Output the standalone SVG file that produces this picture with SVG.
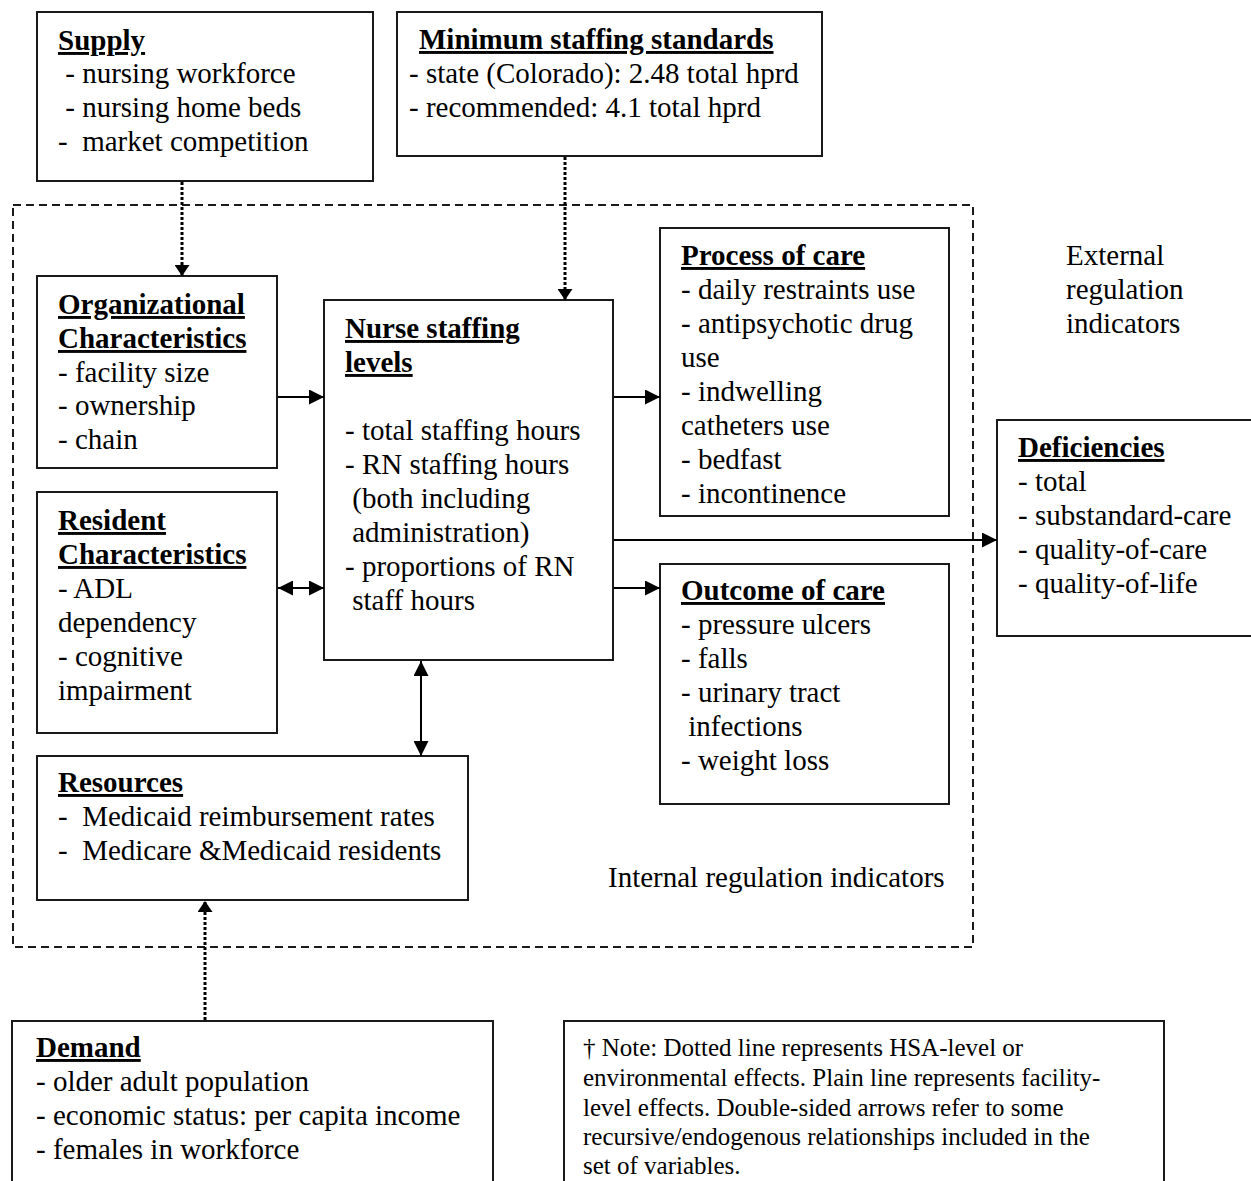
<svg xmlns="http://www.w3.org/2000/svg" width="1251" height="1181" viewBox="0 0 1251 1181">
  <style>
    text { font-family: "Liberation Serif", "Times New Roman", serif; font-size: 29px; fill: #000; }
    .t { font-weight: bold; text-decoration: underline; text-decoration-thickness: 2.5px; }
    .note { font-size: 25px; }
    .box { fill: #fff; stroke: #1a1a1a; stroke-width: 2; }
    .frame { fill: none; stroke: #1a1a1a; stroke-width: 2; stroke-dasharray: 8 5; }
    .solid { stroke: #000; stroke-width: 2; fill: none; }
    .dotted { stroke: #000; stroke-width: 3; stroke-dasharray: 3 2; fill: none; }
  </style>
  <defs>
    <marker id="head" markerUnits="userSpaceOnUse" markerWidth="15" markerHeight="15" refX="15" refY="7.5" orient="auto-start-reverse">
      <path d="M0,0 L15,7.5 L0,15 z" fill="#000"/>
    </marker>
    <marker id="dothead" markerUnits="userSpaceOnUse" markerWidth="11" markerHeight="15" refX="11" refY="7.5" orient="auto-start-reverse">
      <path d="M0,0 L11,7.5 L0,15 z" fill="#000"/>
    </marker>
  </defs>
  <rect width="1251" height="1181" fill="#fff"/>

  <!-- facility-level boundary -->
  <rect class="frame" x="13" y="205" width="960" height="742"/>
  <text x="1066" y="265">External</text>
  <text x="1066" y="299">regulation</text>
  <text x="1066" y="333">indicators</text>
  <text x="608" y="887">Internal regulation indicators</text>

  <g id="supply">
    <rect class="box" x="37" y="12" width="336" height="169"/>
    <text class="t" x="58" y="50">Supply</text>
    <text x="58" y="83" xml:space="preserve"> - nursing workforce</text>
    <text x="58" y="117" xml:space="preserve"> - nursing home beds</text>
    <text x="58" y="151" xml:space="preserve">-  market competition</text>
  </g>

  <g id="minimum-staffing">
    <rect class="box" x="397" y="12" width="425" height="144"/>
    <text class="t" x="419" y="49">Minimum staffing standards</text>
    <text x="409" y="83">- state (Colorado): 2.48 total hprd</text>
    <text x="409" y="117">- recommended: 4.1 total hprd</text>
  </g>

  <g id="organizational">
    <rect class="box" x="37" y="276" width="240" height="192"/>
    <text class="t" x="58" y="314">Organizational</text>
    <text class="t" x="58" y="348">Characteristics</text>
    <text x="58" y="382">- facility size</text>
    <text x="58" y="415">- ownership</text>
    <text x="58" y="449">- chain</text>
  </g>

  <g id="resident">
    <rect class="box" x="37" y="492" width="240" height="241"/>
    <text class="t" x="58" y="530">Resident</text>
    <text class="t" x="58" y="564">Characteristics</text>
    <text x="58" y="598">- ADL</text>
    <text x="58" y="632">dependency</text>
    <text x="58" y="666">- cognitive</text>
    <text x="58" y="700">impairment</text>
  </g>

  <g id="nurse-staffing">
    <rect class="box" x="324" y="300" width="289" height="360"/>
    <text class="t" x="345" y="338">Nurse staffing</text>
    <text class="t" x="345" y="372">levels</text>
    <text x="345" y="440">- total staffing hours</text>
    <text x="345" y="474">- RN staffing hours</text>
    <text x="345" y="508" xml:space="preserve"> (both including</text>
    <text x="345" y="542" xml:space="preserve"> administration)</text>
    <text x="345" y="576">- proportions of RN</text>
    <text x="345" y="610" xml:space="preserve"> staff hours</text>
  </g>

  <g id="process">
    <rect class="box" x="660" y="228" width="289" height="288"/>
    <text class="t" x="681" y="265">Process of care</text>
    <text x="681" y="299">- daily restraints use</text>
    <text x="681" y="333">- antipsychotic drug</text>
    <text x="681" y="367">use</text>
    <text x="681" y="401">- indwelling</text>
    <text x="681" y="435">catheters use</text>
    <text x="681" y="469">- bedfast</text>
    <text x="681" y="503">- incontinence</text>
  </g>

  <g id="outcome">
    <rect class="box" x="660" y="564" width="289" height="240"/>
    <text class="t" x="681" y="600">Outcome of care</text>
    <text x="681" y="634">- pressure ulcers</text>
    <text x="681" y="668">- falls</text>
    <text x="681" y="702">- urinary tract</text>
    <text x="681" y="736" xml:space="preserve"> infections</text>
    <text x="681" y="770">- weight loss</text>
  </g>

  <g id="deficiencies">
    <rect class="box" x="997" y="420" width="270" height="216"/>
    <text class="t" x="1018" y="457">Deficiencies</text>
    <text x="1018" y="491">- total</text>
    <text x="1018" y="525">- substandard-care</text>
    <text x="1018" y="559">- quality-of-care</text>
    <text x="1018" y="593">- quality-of-life</text>
  </g>

  <g id="resources">
    <rect class="box" x="37" y="756" width="431" height="144"/>
    <text class="t" x="58" y="792">Resources</text>
    <text x="58" y="826" xml:space="preserve">-  Medicaid reimbursement rates</text>
    <text x="58" y="860" xml:space="preserve">-  Medicare &amp;Medicaid residents</text>
  </g>

  <g id="demand">
    <rect class="box" x="12" y="1021" width="481" height="200"/>
    <text class="t" x="36" y="1057">Demand</text>
    <text x="36" y="1091">- older adult population</text>
    <text x="36" y="1125">- economic status: per capita income</text>
    <text x="36" y="1159">- females in workforce</text>
  </g>

  <g id="note">
    <rect class="box" x="564" y="1021" width="600" height="200"/>
    <text class="note" x="583" y="1056">† Note: Dotted line represents HSA-level or</text>
    <text class="note" x="583" y="1086">environmental effects. Plain line represents facility-</text>
    <text class="note" x="583" y="1116">level effects. Double-sided arrows refer to some</text>
    <text class="note" x="583" y="1145">recursive/endogenous relationships included in the</text>
    <text class="note" x="583" y="1174">set of variables.</text>
  </g>

  <g id="connectors">
    <line class="dotted" x1="182" y1="182" x2="182" y2="276" marker-end="url(#dothead)"/>
    <line class="dotted" x1="565" y1="157" x2="565" y2="300" marker-end="url(#dothead)"/>
    <line class="dotted" x1="205" y1="1020" x2="205" y2="901" marker-end="url(#dothead)"/>
    <line class="solid" x1="278" y1="397" x2="324" y2="397" marker-end="url(#head)"/>
    <line class="solid" x1="278" y1="588" x2="324" y2="588" marker-start="url(#head)" marker-end="url(#head)"/>
    <line class="solid" x1="614" y1="397" x2="660" y2="397" marker-end="url(#head)"/>
    <line class="solid" x1="614" y1="588" x2="660" y2="588" marker-end="url(#head)"/>
    <line class="solid" x1="614" y1="540" x2="997" y2="540" marker-end="url(#head)"/>
    <line class="solid" x1="421" y1="661" x2="421" y2="756" marker-start="url(#head)" marker-end="url(#head)"/>
  </g>
</svg>
